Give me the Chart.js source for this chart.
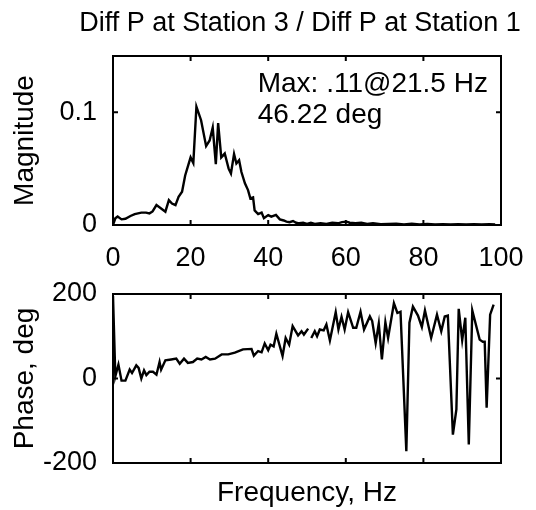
<!DOCTYPE html>
<html>
<head>
<meta charset="utf-8">
<script src="https://cdn.jsdelivr.net/npm/chart.js@4.4.0/dist/chart.umd.min.js"></script>
<style>
  html, body { margin: 0; padding: 0; background: #fff; }
  #wrap { position: relative; width: 536px; height: 510px; }
  #wrap canvas { position: absolute; left: 0; }
</style>
</head>
<body>
<div id="wrap">
  <canvas id="magChart" style="top:0;width:536px;height:280px"></canvas>
  <canvas id="phaseChart" style="top:280px;width:536px;height:230px"></canvas>
</div>
<script>
// values (Hz / magnitude / degrees)
const titleText = 'Diff P at Station 3 / Diff P at Station 1';
const noteLines = ['Max: .11@21.5 Hz', '46.22 deg'];
const noteFreq = 37.3;
const noteMag = [0.1177, 0.0903];

const freqTicks = [0, 20, 40, 60, 80, 100];
const magTicks = [0, 0.1];
const phaseTicks = [-200, 0, 200];

const magFreq = [0, 0.6, 1.2, 2.2, 3.2, 4.5, 5.6, 7.3, 8.5, 9.4, 10.2, 11.2, 12.4, 13.5, 14.4, 15.2,
  16.1, 16.9, 17.8, 18.6, 19.3, 20.0, 20.7, 21.5, 22.7, 24.0, 24.9, 25.7, 26.5, 27.1, 27.9, 28.8,
  29.8, 30.4, 31.2, 31.8, 32.5, 33.1, 34.0, 34.8, 35.4, 36.1, 36.5, 37.4, 38.3, 38.9, 40.0, 40.8,
  42.0, 43.0, 44.0, 44.7, 45.5, 46.4, 47.2, 48.0, 49, 50, 51, 52, 53.5, 55, 56.5, 58, 59, 60.2,
  61, 62.5, 64, 65.5, 67, 69, 71, 73, 75, 77, 79, 81, 83, 85, 87, 89, 91, 93, 95, 97, 98.5];
const magValues = [0, 0.006, 0.0075, 0.005, 0.0055, 0.008, 0.0097, 0.011, 0.011, 0.0103, 0.012, 0.0177, 0.0147, 0.0118, 0.022, 0.019,
  0.0177, 0.025, 0.0295, 0.044, 0.052, 0.060, 0.055, 0.105, 0.093, 0.070, 0.075, 0.0865, 0.054, 0.0905, 0.060, 0.0634,
  0.050, 0.0457, 0.063, 0.0546, 0.0575, 0.047, 0.037, 0.031, 0.0236, 0.0245, 0.013, 0.0097, 0.011, 0.006, 0.0088, 0.0074,
  0.009, 0.005, 0.004, 0.003, 0.0025, 0.0035, 0.002, 0.0015, 0.002, 0.001, 0.002, 0.001, 0.0015, 0.001, 0.002, 0.0015, 0.0025, 0.003,
  0.002, 0.0015, 0.002, 0.001, 0.0015, 0.0008, 0.001, 0.0012, 0.0006, 0.0012, 0.0006, 0.001, 0.0005, 0.0008, 0.0004, 0.0008, 0.0005, 0.0008, 0.0004, 0.0006, 0.0005];

const phaseFreq = [0, 0.6, 1.4, 2.2, 3.2, 4.3, 4.9, 6.0, 6.6, 7.3, 8.0, 8.6, 9.4, 10.3, 11.2, 12.0, 12.4, 13.5,
  15.0, 16.3, 17.2, 18.3, 19.3, 20.6, 21.7, 22.8, 23.9, 25.0, 26.3, 28.0, 29.7, 31.4, 33.5, 35.7, 36.3,
  37.4, 38.3, 39.1, 40.0, 40.6, 41.4, 42.1, 43.7, 44.5, 45.4, 46.3, 47.7, 48.6, 49.2, 50.3, 50.7, 51.1,
  52.0, 52.6, 53.3, 54.3, 55.0, 55.9, 57.4, 58.1, 58.9, 59.7, 60.6, 61.9, 62.7, 63.8, 64.7, 66.2, 66.8,
  67.7, 68.5, 69.3, 70.2, 70.9, 72.4, 73.3, 74.1, 75.6, 76.4, 77.3, 78.6, 79.6, 80.4, 82.0, 83.5, 84.6,
  85.5, 86.3, 87.6, 88.5, 89.1, 90.0, 90.8, 91.7, 92.6, 94.5, 95.3, 95.8, 96.3, 97.2, 98.1];
const phaseValues = [195, 5, 33, -5, -5, 21, 13, 31, 25, 0, 19, 8, 16, 16, 9, 39, 21, 43,
  45, 47, 35, 47, 37, 39, 47, 45, 51, 45, 47, 57, 57, 61, 69, 70, 54,
  65, 62, 83, 67, 80, 76, 106, 53, 96, 80, 124, 102, 112, 104, 118, null, 96,
  112, 100, 116, 114, 128, 90, 157, 116, 146, 116, 157, 120, 120, 158, 116, 147, 136,
  84, 130, 45, 133, 96, 178, 155, 158, -172, 132, 170, 149, 122, 161, 96, 151, 112,
  147, 149, -133, -73, 165, 91, 144, -156, 161, 92, 87, 87, -69, 151, 175];

const fontFamily = '"Liberation Sans", Arial, Helvetica, sans-serif';
const textSize = 28;
const tickSize = 27;
const titleSize = 27;
Chart.defaults.font.family = fontFamily;
Chart.defaults.font.size = textSize;
Chart.defaults.color = '#000';

// matlab-like box with inward ticks on all four sides
const boxPlugin = {
  id: 'box',
  afterDatasetsDraw(chart) {
    const { ctx, chartArea: a, scales: { x, y } } = chart;
    const tickLen = 5;
    ctx.save();
    ctx.strokeStyle = '#000';
    ctx.lineWidth = 2;
    ctx.strokeRect(a.left, a.top, a.right - a.left, a.bottom - a.top);
    ctx.beginPath();
    x.ticks.forEach(t => {
      const px = x.getPixelForValue(t.value);
      ctx.moveTo(px, a.bottom); ctx.lineTo(px, a.bottom - tickLen);
      ctx.moveTo(px, a.top); ctx.lineTo(px, a.top + tickLen);
    });
    y.ticks.forEach(t => {
      const py = y.getPixelForValue(t.value);
      ctx.moveTo(a.left, py); ctx.lineTo(a.left + tickLen, py);
      ctx.moveTo(a.right, py); ctx.lineTo(a.right - tickLen, py);
    });
    ctx.stroke();
    ctx.restore();
  }
};

// text note inside the plot, placed in data units
const notePlugin = {
  id: 'maxNote',
  afterDatasetsDraw(chart, args, opts) {
    if (!opts.lines) return;
    const { ctx, scales: { x, y } } = chart;
    ctx.save();
    ctx.fillStyle = '#000';
    ctx.font = textSize + 'px ' + fontFamily;
    ctx.textAlign = 'left';
    ctx.textBaseline = 'alphabetic';
    opts.lines.forEach((line, i) => {
      ctx.fillText(line, x.getPixelForValue(opts.x), y.getPixelForValue(opts.y[i]));
    });
    ctx.restore();
  }
};

// title wider than the axes, so the built-in one would get squeezed
const wideTitle = {
  id: 'wideTitle',
  afterDraw(chart, args, opts) {
    if (!opts.text) return;
    const { ctx } = chart;
    ctx.save();
    ctx.fillStyle = '#000';
    ctx.font = titleSize + 'px ' + fontFamily;
    ctx.textAlign = 'center';
    ctx.textBaseline = 'middle';
    ctx.fillText(opts.text, opts.x, opts.y);
    ctx.restore();
  }
};

function toPoints(xs, ys) {
  return xs.map((f, i) => ({ x: f, y: ys[i] }));
}

function xScale(showLabels, title) {
  return {
    type: 'linear',
    min: 0,
    max: 100,
    afterBuildTicks: s => { s.ticks = freqTicks.map(v => ({ value: v })); },
    afterFit: s => {
      s.height = showLabels ? 55 : 47;
      s.paddingLeft = 0; s.paddingRight = 0;
    },
    grid: { display: false, drawTicks: false },
    border: { display: false },
    ticks: { display: showLabels, font: { size: tickSize }, padding: 17, maxRotation: 0, autoSkip: false },
    title: { display: !!title, text: title, padding: { top: 0, bottom: 0 } }
  };
}

function yScale(min, max, tickVals, title, fmt) {
  return {
    type: 'linear',
    min, max,
    afterBuildTicks: s => { s.ticks = tickVals.map(v => ({ value: v })); },
    afterFit: s => {
      s.width = 113;
      s.paddingTop = 0; s.paddingBottom = 0;
    },
    grid: { display: false, drawTicks: false },
    border: { display: false },
    ticks: { font: { size: tickSize }, padding: 16, autoSkip: false, callback: fmt },
    title: { display: true, text: title, padding: { top: 8, bottom: 0 } }
  };
}

const lineStyle = {
  borderColor: '#000',
  borderWidth: 2.4,
  pointRadius: 0,
  tension: 0,
  fill: false
};

new Chart(document.getElementById('magChart'), {
  type: 'line',
  data: { datasets: [Object.assign({ data: toPoints(magFreq, magValues) }, lineStyle)] },
  options: {
    responsive: false,
    animation: false,
    devicePixelRatio: 1,
    layout: { padding: { left: 0, right: 35, top: 56, bottom: 0 } },
    plugins: {
      legend: { display: false },
      tooltip: { enabled: false },
      title: { display: false },
      wideTitle: { text: titleText, x: 300, y: 24 },
      maxNote: { lines: noteLines, x: noteFreq, y: noteMag }
    },
    scales: {
      x: xScale(true, ''),
      y: yScale(0, 0.15, magTicks, 'Magnitude', v => (v === 0 ? '0' : String(v)))
    }
  },
  plugins: [boxPlugin, notePlugin, wideTitle]
});

new Chart(document.getElementById('phaseChart'), {
  type: 'line',
  data: { datasets: [Object.assign({ data: toPoints(phaseFreq, phaseValues), spanGaps: false }, lineStyle)] },
  options: {
    responsive: false,
    animation: false,
    devicePixelRatio: 1,
    layout: { padding: { left: 0, right: 35, top: 14, bottom: 0 } },
    plugins: {
      legend: { display: false },
      tooltip: { enabled: false }
    },
    scales: {
      x: xScale(false, 'Frequency, Hz'),
      y: yScale(-200, 200, phaseTicks, 'Phase, deg', v => String(v))
    }
  },
  plugins: [boxPlugin]
});
</script>
</body>
</html>
